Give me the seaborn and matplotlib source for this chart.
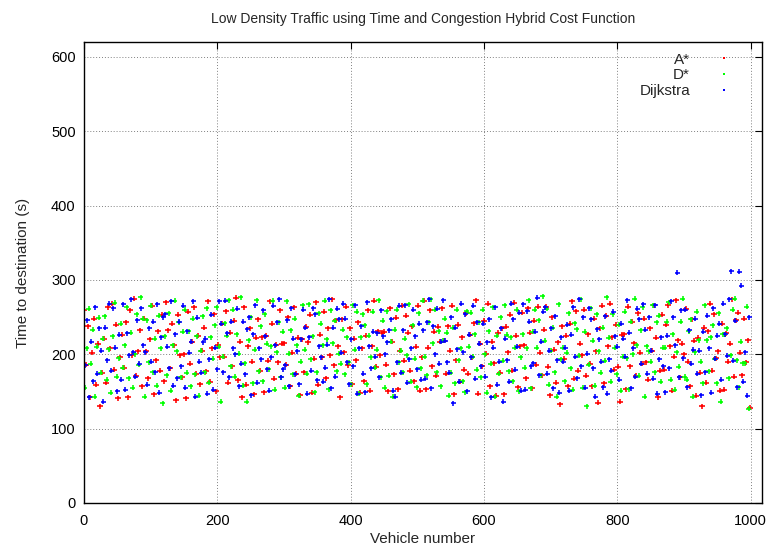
import matplotlib
matplotlib.use("Agg")
import matplotlib.pyplot as plt
import seaborn as sns
import pandas as pd
import numpy as np

series_names = ["A*", "D*", "Dijkstra"]
series_colors = ["#ff0000", "#00ff00", "#0000ff"]

# Time to destination (s), one value per vehicle; vehicles are taken in turn
# by A* (0,3,6,...), D* (1,4,7,...) and Dijkstra (2,5,8,...)
astar_times = [
    260,186,238,142,202,248,159,214,130,175, 221,162,263,208,268,179,240,141,196,226,
    182,243,142,259,199,275,171,204,232,157, 248,204,168,220,265,146,192,231,178,253,
    164,270,232,181,241,212,138,253,199,169, 200,141,257,187,217,263,174,225,160,205,
    236,177,271,163,208,254,150,213,196,241, 197,258,162,229,184,245,276,165,217,142,
    263,159,211,235,190,146,222,247,178,223, 149,225,191,271,241,167,213,189,259,214,
    215,186,250,157,202,263,174,222,145,220, 176,237,216,253,148,194,270,159,226,196,
    257,168,235,199,274,185,246,211,142,247, 203,264,185,235,160,221,192,243,148,208,
    164,225,259,151,211,272,183,231,199,229, 230,186,150,262,217,173,249,153,205,265,
    191,252,229,178,238,164,210,265,151,196, 272,153,209,259,184,230,171,237,217,262,
    218,174,238,205,265,146,192,240,163,223, 179,255,174,226,196,242,273,147,214,184,
    245,201,268,157,217,188,144,229,175,235, 146,237,203,253,178,269,225,156,211,256,
    212,168,262,229,154,245,186,264,202,172, 233,264,183,145,250,206,162,216,133,238,
    194,225,157,241,271,167,258,178,214,199, 260,171,227,187,157,248,204,135,235,265,
    161,252,211,268,223,179,240,183,136,226, 227,153,264,184,244,215,171,255,202,187,
    248,189,166,235,205,266,222,142,178,253, 179,240,266,211,151,197,273,219,169,214,
    200,261,190,157,247,218,144,222,175,130, 236,162,231,268,178,254,195,204,151,241,
    152,228,190,214,274,170,246,256,202,172, 248,189,219,128,
]
dstar_times = [
    155,208,261,187,233,143,210,249,175,221, 251,166,207,148,224,269,170,195,241,182,
    212,263,168,229,155,200,254,186,277,248, 143,246,189,265,176,221,158,252,208,134,
    224,172,255,151,212,272,204,243,169,230, 260,175,231,157,248,173,224,144,205,251,
    176,262,162,223,194,239,263,210,136,197, 242,225,273,184,260,170,227,201,277,158,
    188,136,219,250,161,206,273,177,238,164, 254,214,180,211,272,152,203,243,169,230,
    155,271,201,232,173,248,212,144,190,266, 206,174,267,193,224,149,176,255,241,212,
    272,220,153,259,215,245,177,201,187,233, 173,223,189,160,266,206,257,147,223,254,
    239,160,225,196,257,182,206,273,169,245, 155,258,171,217,143,233,260,189,205,176,
    221,199,267,163,239,194,156,255,181,272, 197,172,243,274,215,260,176,231,157,218,
    248,229,144,175,236,161,260,192,208,164, 149,258,210,256,197,227,179,243,169,260,
    200,148,231,187,263,143,225,174,250,191, 266,226,177,223,164,209,260,150,196,227,
    182,208,273,154,230,260,209,246,172,278, 218,261,159,205,236,176,143,267,193,209,
    164,202,255,181,152,242,234,198,274,155, 230,130,186,262,218,158,254,204,175,236,
    191,277,222,163,254,209,173,240,151,197, 257,195,153,244,200,275,212,171,232,263,
    143,211,204,190,266,176,243,252,163,209, 209,244,270,166,227,152,203,183,244,275,
    170,166,231,247,143,203,257,219,190,161, 266,219,177,223,239,194,161,255,136,227,
    227,235,168,199,260,275,192,156,217,188, 188,264,127,
]
dijkstra_times = [
    185,246,142,217,164,263,174,235,205,136, 236,192,268,178,262,209,150,226,166,267,
    152,228,199,274,203,170,246,187,262,212, 203,159,235,190,244,176,267,148,223,250,
    254,210,181,271,158,227,168,244,184,265, 155,231,202,217,271,143,249,190,175,216,
    221,147,193,253,152,209,180,271,241,176, 272,228,169,244,208,200,261,157,187,244,
    173,234,250,145,227,266,162,208,193,259, 224,180,151,196,265,212,243,274,169,180,
    185,246,157,262,221,173,204,160,220,260, 236,147,223,178,262,254,165,211,196,163,
    182,213,274,154,236,170,261,247,202,268, 248,189,160,220,184,266,147,208,238,174,
    149,270,211,181,230,197,228,169,259,224, 200,216,232,247,151,143,189,265,175,232,
    266,162,193,208,260,224,180,241,166,232, 167,243,274,154,238,200,261,187,217,273,
    218,189,175,250,134,236,207,163,268,203, 254,150,226,196,265,167,243,214,184,241,
    170,216,247,142,209,263,159,190,235,136, 221,192,163,268,247,179,210,256,151,267,
    152,258,244,184,188,230,276,172,217,257, 263,174,205,235,154,251,192,148,223,190,
    209,240,151,226,263,197,168,274,184,250, 155,201,262,247,181,143,234,220,190,156,
    251,147,193,178,257,224,210,166,241,221, 197,273,229,154,208,170,261,247,187,267,
    233,174,250,205,167,266,147,193,223,184, 149,225,181,271,250,212,310,169,259,195,
    260,156,232,187,206,248,174,205,145,230, 176,252,208,148,262,194,225,241,166,268,
    227,198,274,312,191,245,156,311,292,163, 203,144,250,
]

all_times = [astar_times, dstar_times, dijkstra_times]
frames = []
for k, (name, vals) in enumerate(zip(series_names, all_times)):
    frames.append(pd.DataFrame({
        "Vehicle number": np.arange(len(vals)) * 3 + k,
        "Time to destination (s)": vals,
        "Algorithm": name,
    }))
df = pd.concat(frames, ignore_index=True)

sns.set_style("white")
plt.rcParams["font.family"] = ["Liberation Sans", "DejaVu Sans"]

fig = plt.figure(figsize=(7.68, 5.51), dpi=100)
ax = fig.add_axes([84 / 768, 1 - 503 / 551, (762 - 84) / 768, (503 - 42) / 551])

sns.scatterplot(data=df, x="Vehicle number", y="Time to destination (s)",
                hue="Algorithm", hue_order=series_names, palette=series_colors,
                marker="+", s=13, linewidth=1.15, ax=ax, legend=True)

ax.set_xlim(0, 1017)
ax.set_ylim(0, 620)
ax.set_xticks([0, 200, 400, 600, 800, 1000])
ax.set_yticks([0, 100, 200, 300, 400, 500, 600])
ax.grid(True, linestyle=(0, (1, 2)), color="#808080", linewidth=0.7)
ax.set_axisbelow(True)
ax.tick_params(direction="in", length=5, width=0.8, top=True, right=True,
               labelsize=10.5, colors="black")
ax.tick_params(axis="x", pad=8)
ax.tick_params(axis="y", pad=6)
for sp in ax.spines.values():
    sp.set_visible(True)
    sp.set_color("black")
    sp.set_linewidth(1.0)

ax.set_xlabel("Vehicle number", fontsize=11, labelpad=3)
ax.set_ylabel("Time to destination (s)", fontsize=11, labelpad=15)
fig.text(423 / 768, 1 - 19 / 551, "Low Density Traffic using Time and Congestion Hybrid Cost Function",
         ha="center", va="center", fontsize=10)

handles, labels = ax.get_legend_handles_labels()
leg = ax.legend(handles, labels, loc="upper right", frameon=False, markerfirst=False,
                fontsize=11, handletextpad=1.7, labelspacing=0.12,
                bbox_to_anchor=(0.975, 1.007), handlelength=1.0, markerscale=0.5)

fig.savefig("out.png", dpi=100)
